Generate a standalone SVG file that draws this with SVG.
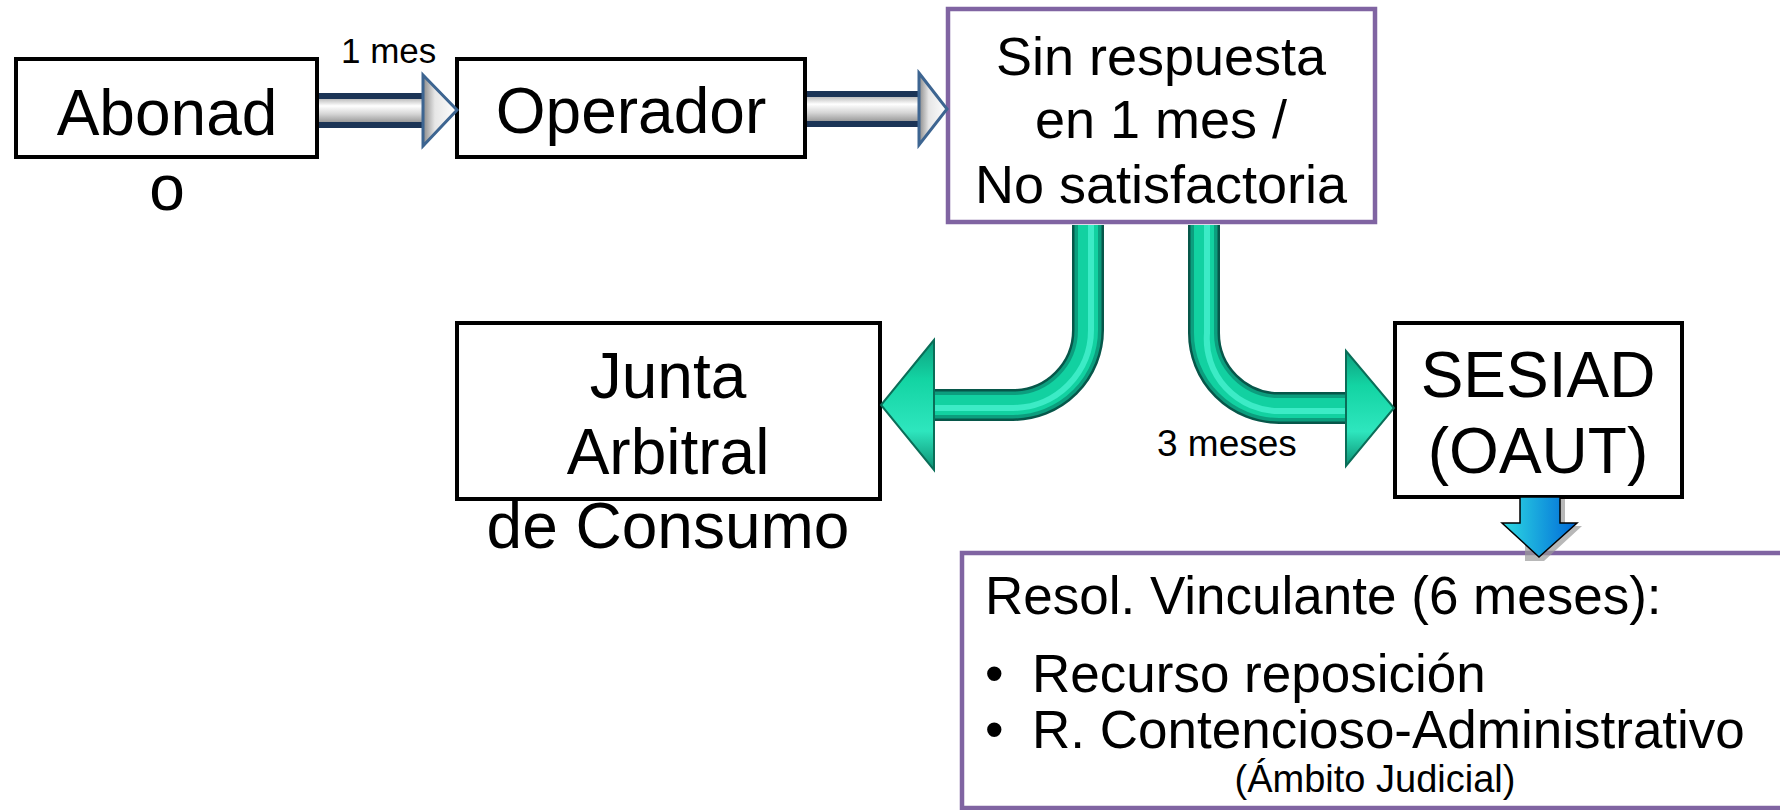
<svg xmlns="http://www.w3.org/2000/svg" width="1780" height="810" viewBox="0 0 1780 810">
<style>
  text { font-family: "Liberation Sans", Arial, Helvetica, sans-serif; fill: #000; }
  .big { font-size: 64px; text-anchor: middle; }
  .mid { font-size: 54px; text-anchor: middle; }
  .res { font-size: 53px; }
  .lbl { font-size: 35px; }
  .box { fill: #fff; stroke: #000; stroke-width: 4; }
  .pbox { fill: #fff; stroke: #8064A2; stroke-width: 4.5; }
  .t1 { fill: none; stroke: #07574A; stroke-width: 32; }
  .t2 { fill: none; stroke: #0C9E7E; stroke-width: 27; }
  .t3 { fill: none; stroke: #12D1A1; stroke-width: 20; }
  .t4 { fill: none; stroke: #3CEBC6; stroke-width: 6; }
  .ghead { fill: url(#gHead); stroke: #0A6E58; stroke-width: 2; }
</style>
<defs>
  <linearGradient id="shaftG" x1="0" y1="0" x2="0" y2="1">
    <stop offset="0" stop-color="#BEBEBE"/>
    <stop offset="0.3" stop-color="#FFFFFF"/>
    <stop offset="0.65" stop-color="#D6D6D6"/>
    <stop offset="1" stop-color="#9C9C9C"/>
  </linearGradient>
  <linearGradient id="headG" x1="0" y1="0" x2="1" y2="0">
    <stop offset="0" stop-color="#8A8A8A"/>
    <stop offset="0.35" stop-color="#E6E6E6"/>
    <stop offset="1" stop-color="#FFFFFF"/>
  </linearGradient>
  <linearGradient id="blueG" x1="0" y1="0" x2="1" y2="0">
    <stop offset="0" stop-color="#2EDBE2"/>
    <stop offset="1" stop-color="#0068D8"/>
  </linearGradient>
  <linearGradient id="gHead" x1="0" y1="0" x2="0" y2="1">
    <stop offset="0" stop-color="#0E9E7E"/>
    <stop offset="0.3" stop-color="#13D4A3"/>
    <stop offset="0.7" stop-color="#2EE6BE"/>
    <stop offset="1" stop-color="#0C8F72"/>
  </linearGradient>
</defs>
<rect width="1780" height="810" fill="#fff"/>

<g id="node-abonado">
  <rect class="box" x="16" y="59" width="301" height="98"/>
  <text class="big" x="167" y="135">Abonad</text>
  <text class="big" x="167" y="210">o</text>
</g>
<g id="node-operador">
  <rect class="box" x="457" y="59" width="348" height="98"/>
  <text class="big" x="631" y="133">Operador</text>
</g>
<g id="node-sinrespuesta">
  <rect class="pbox" x="948" y="9" width="427" height="213"/>
  <text class="mid" x="1161" y="75">Sin respuesta</text>
  <text class="mid" x="1161" y="138">en 1 mes /</text>
  <text class="mid" x="1161" y="203">No satisfactoria</text>
</g>
<g id="node-junta">
  <rect class="box" x="457" y="323" width="423" height="176"/>
  <text class="big" x="668" y="398">Junta</text>
  <text class="big" x="668" y="474">Arbitral</text>
  <text class="big" x="668" y="548">de Consumo</text>
</g>
<g id="node-sesiad">
  <rect class="box" x="1395" y="323" width="287" height="174"/>
  <text class="big" x="1538" y="397">SESIAD</text>
  <text class="big" x="1538" y="473">(OAUT)</text>
</g>
<g id="node-resol">
  <rect class="pbox" x="962" y="553" width="840" height="255"/>
  <text class="res" x="985" y="614">Resol. Vinculante (6 meses):</text>
  <text class="res" x="985" y="692">•</text>
  <text class="res" x="1032" y="692">Recurso reposición</text>
  <text class="res" x="985" y="748">•</text>
  <text class="res" x="1032" y="748">R. Contencioso-Administrativo</text>
  <text x="1375" y="792" font-size="38" text-anchor="middle">(Ámbito Judicial)</text>
</g>

<g id="connectors">
  <g id="arrow-1">
    <rect x="319" y="93" width="106" height="35" fill="#1B3456"/>
    <rect x="319" y="99" width="106" height="23" fill="url(#shaftG)"/>
    <polygon points="423,75 457,110 423,146" fill="url(#headG)" stroke="#3D6591" stroke-width="3" stroke-linejoin="miter"/>
    <text class="lbl" x="341" y="63">1 mes</text>
  </g>
  <g id="arrow-2">
    <rect x="807" y="91" width="114" height="36" fill="#1B3456"/>
    <rect x="807" y="97" width="114" height="24" fill="url(#shaftG)"/>
    <polygon points="919,73 947,109 919,145" fill="url(#headG)" stroke="#3D6591" stroke-width="3"/>
  </g>
  <g id="arrow-junta">
    <path class="t1" d="M1088 225 L1088 330 A75 75 0 0 1 1013 405 L930 405"/>
    <path class="t2" d="M1088 225 L1088 330 A75 75 0 0 1 1013 405 L930 405"/>
    <path class="t3" d="M1088 225 L1088 330 A75 75 0 0 1 1013 405 L930 405"/>
    <path class="t4" d="M1091 225 L1091 330 A78 78 0 0 1 1013 408 L930 408"/>
    <polygon class="ghead" points="934,340 881,405 934,470"/>
  </g>
  <g id="arrow-sesiad">
    <path class="t1" d="M1204 225 L1204 333 A75 75 0 0 0 1279 408 L1350 408"/>
    <path class="t2" d="M1204 225 L1204 333 A75 75 0 0 0 1279 408 L1350 408"/>
    <path class="t3" d="M1204 225 L1204 333 A75 75 0 0 0 1279 408 L1350 408"/>
    <path class="t4" d="M1207 225 L1207 333 A72 72 0 0 0 1279 411 L1350 411"/>
    <polygon class="ghead" points="1346,351 1394,408 1346,466"/>
    <text x="1157" y="456" font-size="37">3 meses</text>
  </g>
  <g id="arrow-resol">
    <polygon points="1525,499 1565,499 1565,526 1582,526 1544,561 1525,561" fill="#9A9A9A" opacity="0.7"/>
    <polygon points="1520,497 1560,497 1560,523 1577,523 1539,557 1502,523 1520,523" fill="url(#blueG)" stroke="#000" stroke-width="1.5" stroke-linejoin="miter"/>
  </g>
</g>
</svg>
